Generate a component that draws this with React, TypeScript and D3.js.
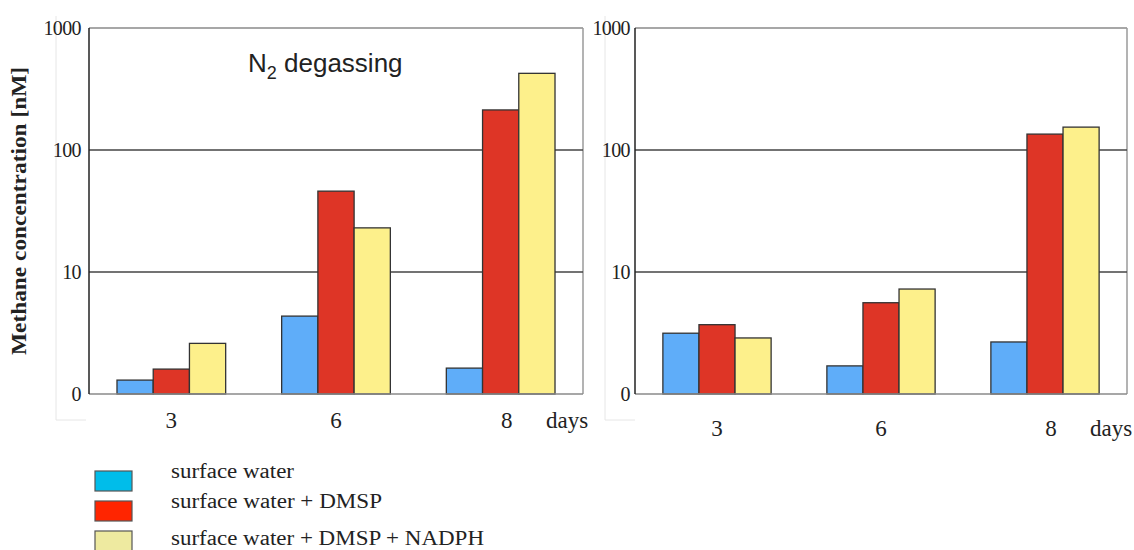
import React from 'react';
import * as d3 from 'd3';

const days = ['3', '6', '8'];
const seriesNames = ['surface water', 'surface water + DMSP', 'surface water + DMSP + NADPH'];
const barColors = ['#5fadf9', '#de3526', '#fdf08b'];
const legendColors = ['#00bdea', '#ff2500', '#eeeaa0'];

// values in nM, per series, per day
const leftSurface = [1.3, 4.35, 1.63];
const leftDmsp = [1.6, 46, 213];
const leftNadph = [2.6, 23, 425];

const rightSurface = [3.15, 1.7, 2.67];
const rightDmsp = [3.7, 5.6, 135];
const rightNadph = [2.88, 7.25, 154];

const tickValues = [1, 10, 100, 1000];
const tickLabels = ['0', '10', '100', '1000'];

const W = 1134;
const H = 550;
const TOP = 28;
const BOTTOM = 394;

interface PanelProps {
  x0: number;
  x1: number;
  series: number[][];
  labelRight: number;
  xLabelY: number;
  daysX: number;
}

const Panel = ({ x0, x1, series, labelRight, xLabelY, daysX }: PanelProps) => {
  const y = d3.scaleLog().domain([1, 1000]).range([BOTTOM, TOP]);
  const x = d3.scaleBand().domain(days).range([x0, x1]).paddingInner(0.34).paddingOuter(0.17);
  const inner = d3.scaleBand().domain(['0', '1', '2']).range([0, x.bandwidth()]);

  return (
    <g>
      {/* faint label box */}
      <path
        d={`M${labelRight - 25},${TOP - 12} V${BOTTOM + 26} H${labelRight + 5}`}
        fill="none"
        stroke="#e6e6e6"
      />
      {/* frame */}
      <line x1={x0} x2={x1} y1={y(1000)} y2={y(1000)} stroke="#8a8a8a" strokeWidth={1.5} />
      <line x1={x1} x2={x1} y1={TOP} y2={BOTTOM} stroke="#9a9a9a" strokeWidth={1.5} />
      {[10, 100].map(v => (
        <line key={v} x1={x0} x2={x1} y1={y(v)} y2={y(v)} stroke="#444" strokeWidth={1.5} />
      ))}

      {series.map((vals, si) =>
        vals.map((v, di) => (
          <rect
            key={`${si}-${di}`}
            x={(x(days[di]) || 0) + (inner(String(si)) || 0)}
            y={y(v)}
            width={inner.bandwidth()}
            height={BOTTOM - y(v)}
            fill={barColors[si]}
            stroke="#333"
            strokeWidth={1.3}
          />
        ))
      )}

      <line x1={x0} x2={x1} y1={BOTTOM} y2={BOTTOM} stroke="#8a8a8a" strokeWidth={1.5} />
      <line x1={x0} x2={x0} y1={TOP} y2={BOTTOM} stroke="#222" strokeWidth={1.5} />

      {tickValues.map((v, i) => (
        <text
          key={v}
          x={labelRight}
          y={y(v) + 7}
          textAnchor="end"
          fontFamily="Liberation Serif"
          fontSize={20}
          letterSpacing={-0.6}
          fill="#222"
        >
          {tickLabels[i]}
        </text>
      ))}

      {days.map(d => (
        <text
          key={d}
          x={(x(d) || 0) + x.bandwidth() / 2 + (d === '8' ? 6 : 0)}
          y={xLabelY}
          textAnchor="middle"
          fontFamily="Liberation Serif"
          fontSize={23}
          fill="#222"
        >
          {d}
        </text>
      ))}
      <text x={daysX} y={xLabelY} fontFamily="Liberation Serif" fontSize={23} fill="#222">
        days
      </text>
    </g>
  );
};

export default function App() {
  const legendY = [471, 501, 531];
  const legendTextY = [478, 508, 545];
  const legendLen = [123, 211, 313];

  return (
    <div style={{ position: 'absolute', left: 0, top: 0 }}>
      <svg width={W} height={H} style={{ display: 'block', background: '#fff' }}>
        <Panel
          x0={89}
          x1={583}
          series={[leftSurface, leftDmsp, leftNadph]}
          labelRight={81}
          xLabelY={428}
          daysX={546}
        />
        <Panel
          x0={635}
          x1={1127}
          series={[rightSurface, rightDmsp, rightNadph]}
          labelRight={630}
          xLabelY={436}
          daysX={1090}
        />

        <text
          transform={`translate(26,211) rotate(-90)`}
          textAnchor="middle"
          fontFamily="Liberation Serif"
          fontWeight="bold"
          fontSize={21}
          textLength={288}
          lengthAdjust="spacingAndGlyphs"
          fill="#222"
        >
          Methane concentration [nM]
        </text>

        <text x={248} y={72} fontFamily="Liberation Sans" fontSize={26} fill="#222">
          N
          <tspan fontSize={18} dy={7}>2</tspan>
          <tspan dy={-7}> degassing</tspan>
        </text>

        {seriesNames.map((name, i) => (
          <g key={name}>
            <rect
              x={95}
              y={legendY[i]}
              width={37}
              height={20}
              fill={legendColors[i]}
              stroke="#555"
              strokeWidth={1.2}
            />
            <text
              x={171}
              y={legendTextY[i]}
              fontFamily="Liberation Serif"
              fontSize={20}
              textLength={legendLen[i]}
              lengthAdjust="spacingAndGlyphs"
              fill="#222"
            >
              {name}
            </text>
          </g>
        ))}
      </svg>
    </div>
  );
}
